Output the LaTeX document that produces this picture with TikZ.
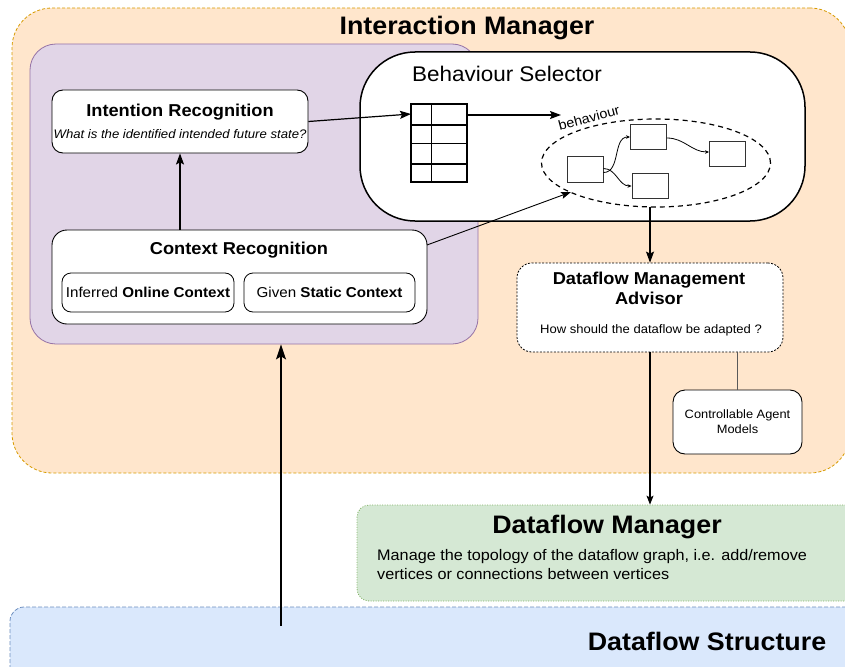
\documentclass[tikz,border=0pt]{standalone}
\usepackage{fontspec}
\setmainfont[FakeStretch=1.06]{Liberation Sans}
\usetikzlibrary{shapes.geometric,arrows.meta,calc}

\definecolor{imfill}{HTML}{FFE6CC}
\definecolor{imline}{HTML}{D79B00}
\definecolor{crfill}{HTML}{E1D5E7}
\definecolor{crline}{HTML}{9673A6}
\definecolor{dmfill}{HTML}{D5E8D4}
\definecolor{dmline}{HTML}{82B366}
\definecolor{dsfill}{HTML}{DAE8FC}
\definecolor{dsline}{HTML}{6C8EBF}

\newcommand\fsz[2]{\fontsize{#1}{#2}\selectfont}

\tikzset{
  panel/.style={draw, rounded corners=#1, inner sep=0pt},
  panel/.default=10pt,
  card/.style={panel=#1, fill=white, line width=0.9pt},
  card/.default=10pt,
  mini/.style={draw=black!80, fill=white, line width=0.9pt, inner sep=0pt,
               minimum width=36pt, minimum height=25.5pt},
  arr/.style={line width=1.2pt, -{Stealth[length=11pt,width=8pt,inset=2pt]}},
  thinarr/.style={line width=0.9pt, -{Stealth[length=10pt,width=7pt,inset=2pt]}},
  tinyarr/.style={line width=0.8pt, -{Stealth[length=4pt,width=3.5pt]}},
  lbl/.style={inner sep=0pt, align=center},
}

\begin{document}
\begin{tikzpicture}[x=1pt,y=-1pt]
\useasboundingbox (0,0) rectangle (845,666);
\clip (0,0) rectangle (845,666);

% ---------- Interaction Manager ----------
\node[panel=40pt, draw=imline, fill=imfill, line width=0.8pt,
      dash pattern=on 3pt off 2pt,
      minimum width=838pt, minimum height=465pt] (IM) at (431,240.5) {};
\node[lbl, font=\fsz{25.3}{30}\bfseries] (IMt) at (467,28) {Interaction Manager};

% recognition area
\node[panel=26pt, draw=crline, fill=crfill, line width=0.8pt,
      minimum width=448pt, minimum height=300pt] (P) at (254,194) {};

% behaviour selector
\node[panel=55pt, fill=white, line width=1.5pt,
      minimum width=445pt, minimum height=169pt] (BS) at (582.5,136.5) {};
\node[lbl, font=\fsz{21.2}{25}] (BSt) at (507,74) {Behaviour Selector};

% selection table
\node[draw, line width=1.3pt, inner sep=0pt,
      minimum width=56pt, minimum height=78pt] (tbl) at (439,143) {};
\draw[line width=1.3pt] (411,125) -- (467,125) (411,164) -- (467,164);
\draw[line width=0.8pt] (411,143) -- (467,143) (431,104) -- (431,182);

% behaviour graph
\node[draw, dashed, line width=1.2pt, ellipse, inner sep=0pt,
      dash pattern=on 5pt off 4pt,
      minimum width=229pt, minimum height=88pt] (ell) at (656,163) {};
\node[lbl, font=\fsz{13.5}{15}, rotate=15] (bh) at (589,118) {behaviour};
\node[mini] (ba) at (585,169.5) {};
\node[mini] (bb) at (648.5,137) {};
\node[mini] (bc) at (727.5,154) {};
\node[mini] (bd) at (650,186) {};
\draw[tinyarr] ([yshift=-3pt]ba.east) to[out=0,in=180] (bb.west);
\draw[tinyarr] ([yshift=1pt]ba.east) to[out=0,in=180] (bd.west);
\draw[tinyarr] ([yshift=-1pt]bb.east) to[out=0,in=180] ([yshift=2pt]bc.west);

% intention recognition
\node[card=11pt, minimum width=256pt, minimum height=63pt] (IR) at (180,121.5) {};
\node[lbl, font=\fsz{17.2}{20}\bfseries] (IRt) at (180,112) {Intention Recognition};
\node[lbl, font=\fsz{12.4}{15}\itshape] (IRs) at (180,134) {What is the identified intended future state?};

% context recognition
\node[card=15pt, minimum width=375pt, minimum height=94pt] (CR) at (239.5,277) {};
\node[lbl, font=\fsz{17.2}{20}\bfseries] (CRt) at (239,250) {Context Recognition};
\node[card=9pt, line width=0.8pt, minimum width=172pt, minimum height=39pt,
      font=\fsz{14.3}{17}] (on) at (148,292.5) {Inferred \textbf{Online Context}};
\node[card=9pt, line width=0.8pt, minimum width=171pt, minimum height=39pt,
      font=\fsz{14.3}{17}] (st) at (329.5,292.5) {Given \textbf{Static Context}};

% connectors inside the interaction manager
\coordinate (tblin) at (411,114);
\coordinate (tblout) at (561,115);
\coordinate (crout) at (427,245);
\coordinate (ellin) at (571,192);
\draw[arr] (IR.south |- CR.north) -- (IR.south);
\draw[arr] (IR.east) -- (tblin);
\draw[arr] (tbl.east |- tblout) -- (tblout);
\draw[thinarr] (crout) -- (ellin);

% dataflow management advisor
\node[card=15pt, dash pattern=on 2pt off 1.5pt, line width=0.8pt,
      minimum width=266pt, minimum height=89pt] (DMA) at (650,307.5) {};
\node[lbl, font=\fsz{17.2}{20.5}\bfseries] (DMAt) at (649,288.5) {Dataflow Management\\Advisor};
\node[lbl, font=\fsz{12.3}{14}] (DMAs) at (651,330) {How should the dataflow be adapted ?};
\coordinate (ellb) at (650,206.5);
\draw[arr] (ellb) -- (DMA.north);

% controllable agent models
\node[card=12pt, line width=0.9pt, minimum width=129pt, minimum height=64pt,
      font=\fsz{12.1}{15}, align=center] (CAM) at (737.5,422) {Controllable Agent\\Models};
\draw[black!65, line width=1pt] (CAM.north) -- (CAM.north |- DMA.south);

% ---------- Dataflow Manager ----------
\node[panel=12pt, draw=dmline, fill=dmfill, line width=0.8pt,
      dash pattern=on 1pt off 1.5pt,
      minimum width=503pt, minimum height=96pt] (DM) at (608.5,553) {};
\node[lbl, font=\fsz{25.3}{30}\bfseries] (DMt) at (607,527) {Dataflow Manager};
\node[inner sep=0pt, anchor=north west, align=left, font=\fsz{15.3}{19}] (DMs) at (377,549)
  {Manage the topology of the dataflow graph, i.e. add/remove\\vertices or connections between vertices};
\draw[line width=1.1pt, -{Stealth[length=9pt,width=7pt,inset=2pt]}] (DMA.south) -- (DMA.south |- DM.north);

% ---------- Dataflow Structure ----------
\node[panel=14pt, draw=dsline, fill=dsfill, line width=0.8pt,
      dash pattern=on 4pt off 2pt,
      minimum width=850pt, minimum height=80pt] (DS) at (435,647) {};
\node[lbl, font=\fsz{25.3}{30}\bfseries] (DSt) at (707,641) {Dataflow Structure};

% upward feed into the recognition area
\coordinate (dsout) at (281,626);
\draw[line width=1.4pt, -{Stealth[length=15pt,width=10pt,inset=3pt]}] (dsout) -- (dsout |- P.south);

\end{tikzpicture}
\end{document}
